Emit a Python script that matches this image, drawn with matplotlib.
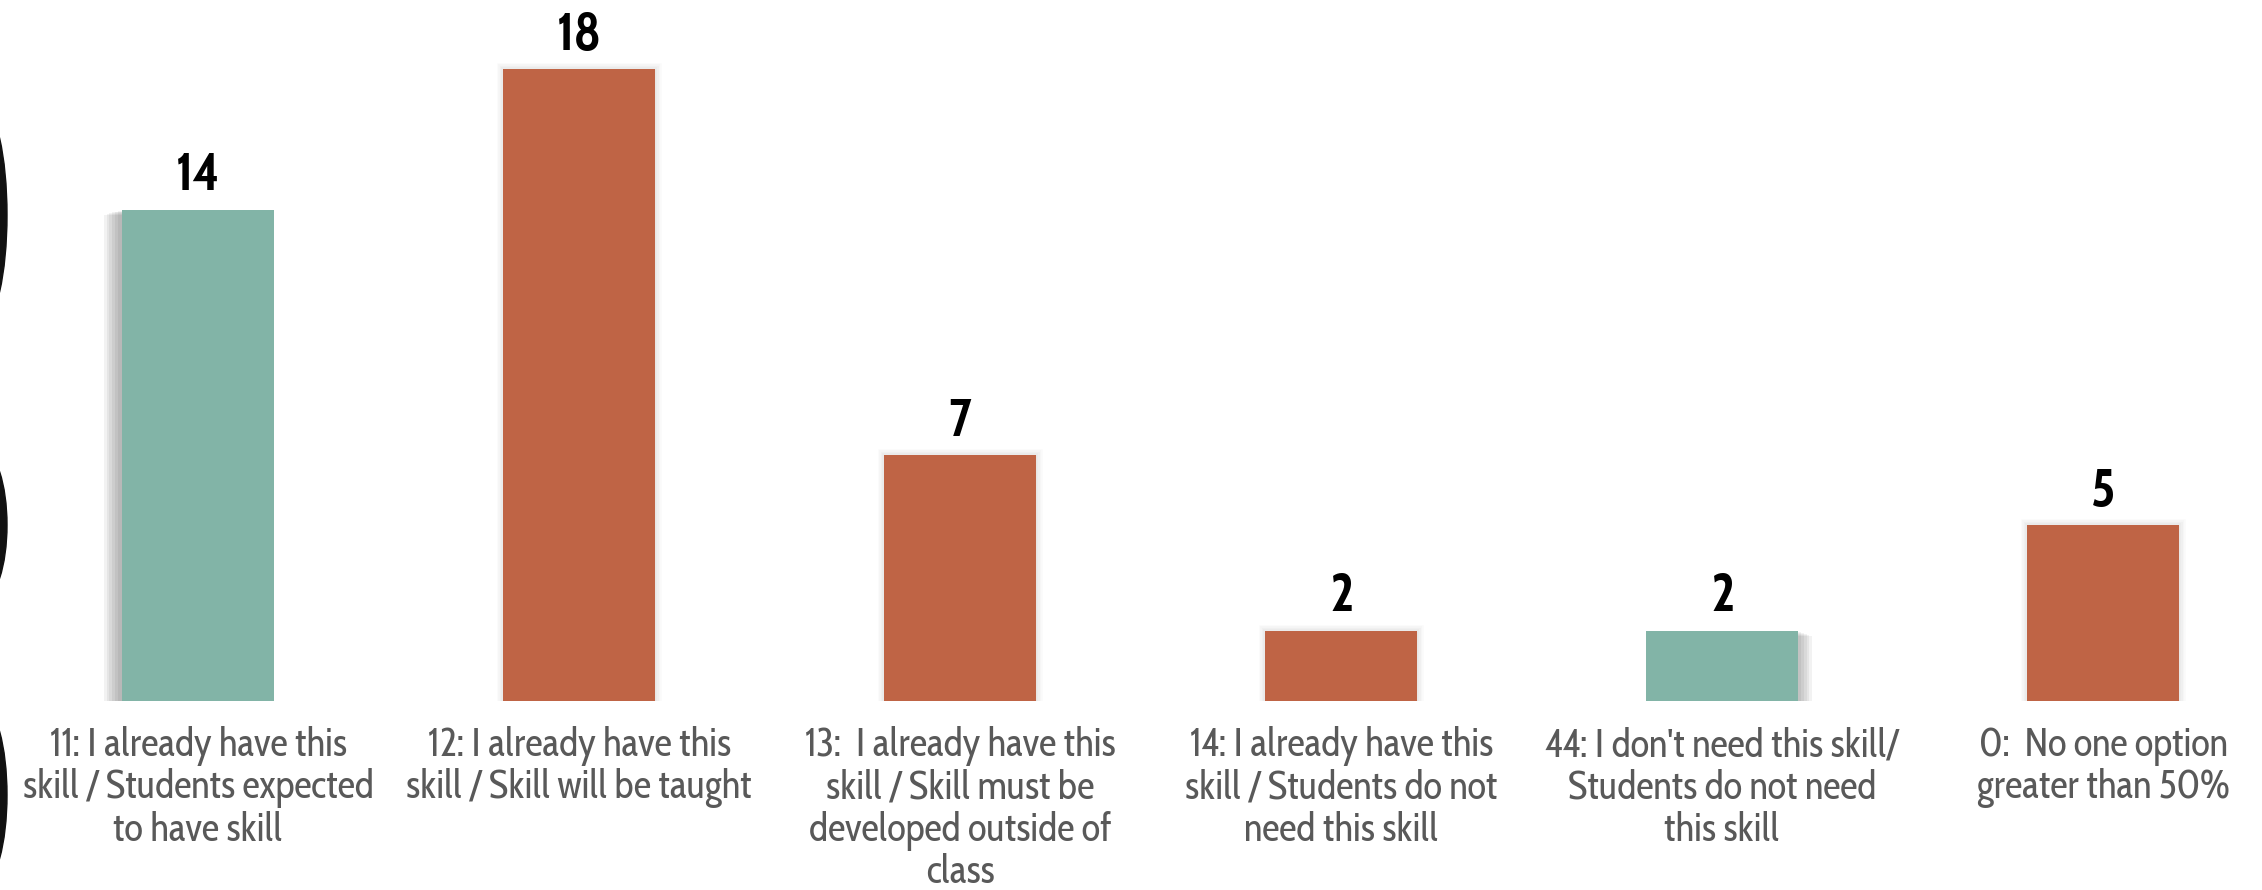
import matplotlib
matplotlib.use('Agg')
import matplotlib.pyplot as plt
import matplotlib.patheffects as pe
from matplotlib.patches import Ellipse

# --- data ---
labels = [
    "11: I already have this\nskill / Students expected\nto have skill",
    "12: I already have this\nskill / Skill will be taught",
    "13:  I already have this\nskill / Skill must be\ndeveloped outside of\nclass",
    "14: I already have this\nskill / Students do not\nneed this skill",
    "44: I don't need this skill/\nStudents do not need\nthis skill",
    "0:  No one option\ngreater than 50%",
]
counts = [14, 18, 7, 2, 2, 5]
groups = ['teal', 'orange', 'orange', 'orange', 'teal', 'orange']

TEAL = '#82B4A7'
ORANGE = '#BF6445'
TEXT_GRAY = '#595959'
palette = {'teal': TEAL, 'orange': ORANGE}

BODY_FONT = ['Cabin Condensed', 'Lato', 'DejaVu Sans']
NUM_FONT = ['Cabin Condensed', 'Lato', 'DejaVu Sans']

W, H = 2262, 890
fig = plt.figure(figsize=(W / 100, H / 100), dpi=100)
fig.patch.set_facecolor('white')

# plot area: baseline 701 px from top, runs to top edge
ax = fig.add_axes([0, 189 / H, 1, 701 / H])
x = list(range(len(counts)))
bars = ax.bar(x, counts, width=0.40, color=[palette[g] for g in groups], zorder=3)

ax.set_xlim(-0.52, 5.417)
ax.set_ylim(0, 19.97)
for s in ax.spines.values():
    s.set_visible(False)
ax.set_yticks([])
ax.set_xticks(x)
ax.set_xticklabels(labels, fontsize=28, color=TEXT_GRAY, family=BODY_FONT, linespacing=1.08)
ax.tick_params(axis='x', length=0, pad=18)


# soft glow behind the orange bars
def soft(offset, n=6, step=2.5, alpha=0.05):
    effects = [pe.Stroke(offset=offset, linewidth=1 + step * k, foreground='black', alpha=alpha)
               for k in range(n, 0, -1)]
    return effects + [pe.Normal()]


# stacked drop shadows -> blurry shadow for the teal bars
def drop(offsets, alpha=0.06):
    effects = [pe.SimplePatchShadow(offset=o, shadow_rgbFace='black', alpha=alpha) for o in offsets]
    return effects + [pe.Normal()]


for b, g, i in zip(bars, groups, x):
    if i == 0:
        b.set_path_effects(drop([(-k, -0.3 * k) for k in (3, 5, 7, 9, 11, 13)], alpha=0.05))
    elif i == 4:
        b.set_path_effects(drop([(k, -0.4 * k) for k in (2, 4, 6, 8, 10)], alpha=0.05))
    else:
        b.set_path_effects(soft((0, 0), n=4, step=2.0, alpha=0.018))

for i, v in zip(x, counts):
    ax.annotate(str(v), (i, v), xytext=(0, 14), textcoords='offset points',
                ha='center', va='baseline', fontsize=38, fontweight='bold',
                family=NUM_FONT, color='black')

# clipped dark shapes peeking in from the left edge
ov = fig.add_axes([0, 0, 1, 1], zorder=5)
ov.set_xlim(0, W)
ov.set_ylim(H, 0)
ov.axis('off')
arc_centers = [215, 525, 795]
arc_halves = [75, 52, 62]
for cy, half in zip(arc_centers, arc_halves):
    a = 25
    b = half / 0.694
    ov.add_patch(Ellipse((7 - a, cy), 2 * a, 2 * b, color='#111111'))

fig.savefig('out.png', dpi=100, facecolor='white')
